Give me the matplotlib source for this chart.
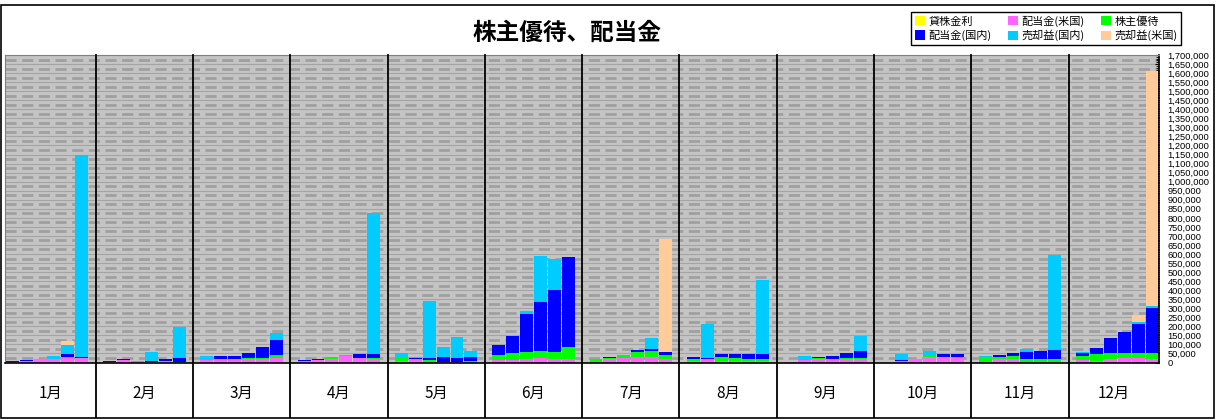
import numpy as np
import matplotlib
matplotlib.use("Agg")
import matplotlib.pyplot as plt
from matplotlib.patches import Patch, Rectangle
from matplotlib.ticker import MultipleLocator, FuncFormatter

plt.rcParams['font.family'] = ['Noto Sans CJK JP', 'DejaVu Sans']

# data: one row per month, six bars (years) per month, values in yen
months = ["1月", "2月", "3月", "4月", "5月", "6月", "7月", "8月", "9月", "10月", "11月", "12月"]
series_names = ["貸株金利", "配当金(米国)", "株主優待", "配当金(国内)", "売却益(国内)", "売却益(米国)"]
series_colors = ["#ffff00", "#ff66ff", "#00ff00", "#0000ff", "#00ccff", "#ffcc99"]

lending = [
    [0, 0, 0, 0, 0, 0], [0, 0, 0, 0, 0, 0], [0, 0, 0, 0, 0, 0],
    [0, 0, 0, 0, 0, 0], [0, 0, 0, 0, 0, 0], [0, 0, 0, 0, 0, 0],
    [0, 0, 0, 0, 0, 0], [0, 0, 0, 0, 0, 0], [0, 0, 0, 0, 0, 0],
    [0, 0, 0, 0, 0, 0], [0, 0, 0, 0, 0, 0], [0, 0, 0, 0, 0, 0],
]
div_us = [
    [4000, 7000, 18000, 16600, 24000, 26000],
    [4000, 15000, 2000, 4000, 9000, 0],
    [13000, 16600, 20000, 18000, 18000, 26000],
    [7000, 13000, 16600, 38700, 27600, 18000],
    [9000, 18000, 5500, 4000, 5500, 0],
    [15000, 15000, 20000, 27600, 20000, 20000],
    [4000, 18000, 26000, 31000, 31000, 20000],
    [11000, 16600, 9000, 9000, 9000, 9000],
    [5500, 15000, 20000, 20000, 20000, 20000],
    [0, 7000, 16600, 29500, 33000, 27600],
    [5500, 18000, 16600, 5500, 5500, 5500],
    [15000, 9000, 20000, 24000, 24000, 20000],
]
yutai = [
    [0, 0, 0, 5500, 9000, 0],
    [0, 0, 4000, 0, 0, 4000],
    [4000, 4000, 0, 5500, 5500, 15000],
    [0, 0, 13000, 4000, 0, 5500],
    [18000, 0, 11000, 0, 0, 11000],
    [27600, 38700, 38700, 37000, 38700, 66000],
    [13000, 9000, 16600, 27600, 33000, 22000],
    [9000, 0, 22000, 16600, 11000, 11000],
    [0, 0, 7000, 0, 7000, 7000],
    [0, 0, 4000, 4000, 0, 5500],
    [27600, 13000, 22000, 15000, 15000, 15000],
    [22000, 38700, 33000, 26000, 26000, 35000],
]
div_jp = [
    [5000, 5000, 0, 0, 13000, 4000],
    [4000, 4000, 0, 4000, 11000, 20000],
    [0, 16600, 16600, 27500, 62000, 83000],
    [5500, 5500, 0, 0, 20000, 24000],
    [0, 5500, 9000, 24000, 22000, 22000],
    [55000, 94000, 210000, 271000, 343000, 497000],
    [0, 5500, 0, 11000, 11000, 16600],
    [11000, 9000, 16600, 22000, 27600, 27600],
    [0, 0, 5500, 18000, 27600, 38700],
    [0, 7000, 0, 0, 16600, 16600],
    [0, 11000, 16600, 35000, 40500, 50000],
    [15000, 35000, 85000, 116000, 164000, 249000],
]
sale_jp = [
    [0, 0, 0, 13000, 52000, 1120000],
    [0, 0, 0, 49000, 0, 173000],
    [20000, 0, 0, 0, 0, 39000],
    [0, 0, 0, 0, 0, 780000],
    [26000, 5500, 315000, 55000, 114000, 31000],
    [0, 0, 16600, 254000, 171000, 0],
    [0, 0, 0, 0, 63000, 0],
    [0, 188000, 0, 0, 0, 409000],
    [0, 22000, 0, 0, 0, 83000],
    [0, 35000, 0, 27600, 0, 0],
    [5500, 0, 0, 20000, 0, 524000],
    [7000, 0, 0, 0, 11000, 11000],
]
sale_us = [
    [0, 0, 0, 0, 20000, 0],
    [0, 0, 0, 0, 0, 0],
    [0, 0, 0, 0, 0, 0],
    [0, 0, 0, 0, 0, 0],
    [0, 0, 0, 0, 0, 0],
    [0, 0, 0, 0, 0, 0],
    [0, 0, 0, 0, 0, 625000],
    [0, 0, 0, 0, 0, 0],
    [0, 0, 0, 0, 0, 0],
    [0, 0, 0, 0, 0, 0],
    [0, 0, 0, 0, 0, 0],
    [0, 0, 0, 0, 35000, 1297000],
]

all_series = [lending, div_us, yutai, div_jp, sale_jp, sale_us]
n_months = len(months)
n_bars = 6
slot = n_bars + 1  # one empty slot between months

fig = plt.figure(figsize=(12.16, 4.2), dpi=100)
ax = fig.add_axes([0.00436, 0.1369, 0.9487, 0.732])
ax.set_facecolor("#c4c4c4")

ymax = 1700000
ax.set_xlim(-0.5, slot * n_months - 1.5)
ax.set_ylim(0, ymax)

# excel-like patterned background
for y in np.arange(0, ymax + 1, 50000):
    ax.axhline(y, color="#a4a4a4", lw=0.8, zorder=0)
    ax.axhline(y + 25000, color="#a0a0a0", lw=2.0, ls=(0, (4, 2)), zorder=0)

x = np.array([slot * m + j for m in range(n_months) for j in range(n_bars)])
bottom = np.zeros(len(x))
for name, color, data in zip(series_names, series_colors, all_series):
    vals = np.array(data, dtype=float).ravel()
    ax.bar(x, vals, width=0.93, bottom=bottom, color=color, linewidth=0, zorder=2)
    bottom += vals

# month separators, running down through the label row
for m in range(n_months - 1):
    ax.axvline(slot * m + n_bars, ymin=-0.177, ymax=1, color="black", lw=1.3,
               clip_on=False, zorder=3)

bounds = [-0.5] + [slot * m + n_bars for m in range(n_months - 1)] + [slot * n_months - 1.5]
for m, label in enumerate(months):
    cx = (bounds[m] + bounds[m + 1]) / 2
    ax.text(cx, -0.099, label, transform=ax.get_xaxis_transform(), ha="center",
            va="center", fontsize=11)

ax.set_xticks([])
ax.yaxis.tick_right()
ax.yaxis.set_major_locator(MultipleLocator(50000))
ax.yaxis.set_minor_locator(MultipleLocator(10000))
ax.yaxis.set_major_formatter(FuncFormatter(lambda v, p: f"{int(v):,}"))
ax.tick_params(axis="y", which="major", direction="in", length=3, width=0.8, pad=6)
ax.tick_params(axis="y", which="minor", direction="in", length=2, width=0.6)
for lab in ax.get_yticklabels():
    lab.set_fontsize(6.7)
    lab.set_family(["Liberation Sans", "DejaVu Sans"])

for side in ["left", "top"]:
    ax.spines[side].set_color("#808080")
for side in ["right", "bottom"]:
    ax.spines[side].set_color("black")
    ax.spines[side].set_linewidth(1.2)

fig.text(0.466, 0.921, "株主優待、配当金", ha="center", va="center",
         fontsize=17, fontweight="bold")

handles = [Patch(facecolor=c, edgecolor="none") for c in series_colors]
order = [0, 3, 1, 4, 2, 5]
leg = fig.legend([handles[i] for i in order], [series_names[i] for i in order],
                 ncol=3, loc="upper right", bbox_to_anchor=(1187 / 1216, 1 - 6 / 420),
                 fontsize=8, frameon=True, fancybox=False, edgecolor="black",
                 framealpha=1, handlelength=0.9, handleheight=0.9, handletextpad=0.3,
                 columnspacing=1.5, labelspacing=0.3, borderpad=0.35)
leg.get_frame().set_linewidth(1.0)

fig.patches.append(Rectangle((0.0012, 0.0055), 0.9972, 0.9833, transform=fig.transFigure,
                             fill=False, edgecolor="black", lw=1.2))

fig.savefig("out.png", dpi=100)
